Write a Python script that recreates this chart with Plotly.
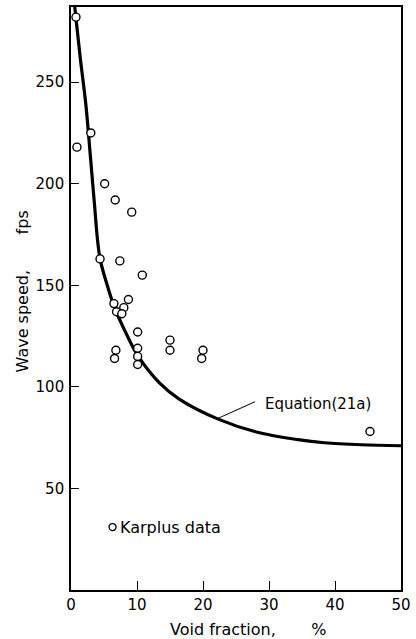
import plotly.graph_objects as go

# Karplus data (void fraction %, wave speed fps)
karplus_x = [0.75, 0.9, 3.0, 5.1, 6.7, 9.2, 4.4, 7.4, 10.8, 8.7, 8.0, 6.5, 6.9, 7.7,
             10.1, 15.0, 15.0, 20.0, 19.8, 6.8, 6.6, 10.1, 10.1, 10.1, 45.3]
karplus_y = [282, 218, 225, 200, 192, 186, 163, 162, 155, 143, 139, 141, 137, 136,
             127, 123, 118, 118, 114, 118, 114, 119, 115, 111, 78]

# Equation (21a) curve
eq_x = [0.5, 1.4, 2.25, 2.9, 3.5, 4.35, 5.4, 6.6, 8.4, 10.2, 13.4, 16.4, 22.4, 28.4, 34.4, 38.4, 44, 50]
eq_y = [289, 262, 239, 215, 192, 164, 151, 139, 126, 115, 102, 94, 84, 77.5, 74, 72.5, 71.5, 71]

x_ticks = [0, 10, 20, 30, 40, 50]
y_ticks = [50, 100, 150, 200, 250]

FONT = "DejaVu Sans"

fig = go.Figure()
fig.add_trace(go.Scatter(x=eq_x, y=eq_y, mode="lines",
                         line=dict(color="black", width=3.2, shape="spline", smoothing=1.0),
                         showlegend=False, cliponaxis=True))
fig.add_trace(go.Scatter(x=karplus_x, y=karplus_y, mode="markers",
                         marker=dict(symbol="circle", size=8, color="white",
                                     line=dict(color="black", width=1.4)),
                         showlegend=False, cliponaxis=False))

L, R, T, B = 71, 12, 5, 49
fig.update_layout(
    width=416, height=639,
    margin=dict(l=L, r=R, t=T, b=B),
    paper_bgcolor="white", plot_bgcolor="white",
    font=dict(family=FONT, color="black"),
    xaxis=dict(range=[0, 50], tickvals=x_ticks, ticks="inside", ticklen=9, tickwidth=1.3,
               tickcolor="black", showline=True, linecolor="black", linewidth=1.6,
               mirror=True, showgrid=False, zeroline=False,
               tickfont=dict(size=15, family=FONT)),
    yaxis=dict(range=[0, 287], tickvals=y_ticks, ticks="inside", ticklen=8, tickwidth=1.3,
               tickcolor="black", showline=True, linecolor="black", linewidth=1.6,
               mirror=True, showgrid=False, zeroline=False,
               tickfont=dict(size=15, family=FONT), ticklabelstandoff=2),
)

nb = "\u00a0" * 7
fig.add_annotation(text="Void fraction," + nb + "%", xref="paper", yref="paper",
                   x=0.5375, y=-0.068, xanchor="center", yanchor="middle", showarrow=False,
                   font=dict(size=16, family=FONT))
fig.add_annotation(text="Wave speed," + nb + "fps", xref="paper", yref="paper",
                   x=-0.147, y=0.513, xanchor="center", yanchor="middle", showarrow=False,
                   textangle=-90, font=dict(size=16, family=FONT))
fig.add_annotation(text="Equation(21a)", x=37.4, y=91.8, xanchor="center", yanchor="middle",
                   showarrow=False, font=dict(size=15, family=FONT))
fig.add_shape(type="line", x0=22.2, y0=84.4, x1=27.9, y1=92.7,
              line=dict(color="black", width=1))

# legend: open circle + label
fig.add_shape(type="circle", xref="paper", yref="paper", xsizemode="pixel", ysizemode="pixel",
              xanchor=0.126, yanchor=0.108, x0=-3.5, x1=3.5, y0=-3.5, y1=3.5,
              line=dict(color="black", width=1.3), fillcolor="white")
fig.add_annotation(text="Karplus data", xref="paper", yref="paper", x=0.142, y=0.108,
                   xanchor="left", yanchor="middle", showarrow=False,
                   font=dict(size=16, family=FONT))

fig.write_html("out.html")
